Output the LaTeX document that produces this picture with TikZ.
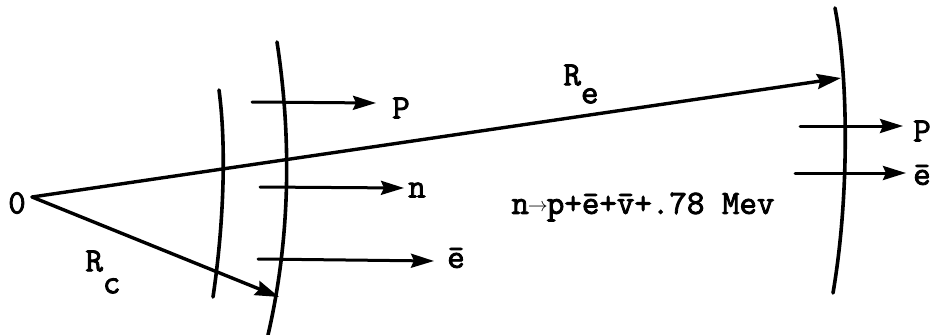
\documentclass[tikz,border=0pt]{standalone}
\usepackage{fontspec}
\newfontfamily\tw{Latin Modern Mono}[FakeBold=2.5]
\usetikzlibrary{arrows.meta}
\tikzset{
  lbl/.style={font=\tw\fontsize{34}{34}\selectfont, inner sep=0pt},
  shell/.style={line width=3.6pt, line cap=round},
  radius/.style={line width=3.4pt, line cap=round, -{Stealth[length=24pt,width=15pt,inset=3pt]}},
  particle/.style={line width=3pt, line cap=round, -{Stealth[length=23pt,width=14pt,inset=3pt]}}
}
\begin{document}
\begin{tikzpicture}[x=1pt,y=-1pt]
\useasboundingbox (0,0) rectangle (938,335);
% origin
\node[lbl] (zero) at (17,203) {0};
\coordinate (O) at (32,197);
% shells
\draw[shell] (219,90) .. controls (227,150) and (223,230) .. (213,297);
\draw[shell] (277,42) .. controls (292,140) and (290,240) .. (268,335);
\draw[shell] (835,8) .. controls (849,80) and (849,200) .. (833,293);
% radii
\coordinate (Rctip) at (279,297);
\coordinate (Retip) at (841,78);
\draw[radius] (O) -- (Rctip);
\draw[radius] (O) -- (Retip);
\node[lbl] (Rc) at (103,272) {R\raisebox{-22pt}{c}};
\node[lbl] (Re) at (581,84) {R\raisebox{-18pt}{e}};
% particles near the inner shells
\coordinate (p1s) at (252,102);
\coordinate (p1e) at (376,103);
\node[lbl] (p1) at (401,108) {P};
\draw[particle] (p1s) -- (p1e);
\coordinate (n1s) at (260,187);
\coordinate (n1e) at (404,188);
\node[lbl] (n1) at (417,190) {n};
\draw[particle] (n1s) -- (n1e);
\coordinate (e1s) at (258,259);
\coordinate (e1e) at (434,261);
\node[lbl] (e1) at (456,258) {ē};
\draw[particle] (e1s) -- (e1e);
% particles at the outer shell
\coordinate (p2s) at (800,126);
\coordinate (p2e) at (903,126);
\node[lbl] (p2) at (922,131) {P};
\draw[particle] (p2s) -- (p2e);
\coordinate (e2s) at (795,173);
\coordinate (e2e) at (906,173);
\node[lbl] (e2) at (922,175) {ē};
\draw[particle] (e2s) -- (e2e);
% reaction
\node[lbl] (eq) at (643,207) {n\makebox[0.525em]{\raisebox{2pt}{\scalebox{0.8}{$\rightarrow$}}}p+ē+\=v+.78 Mev};
\end{tikzpicture}
\end{document}
